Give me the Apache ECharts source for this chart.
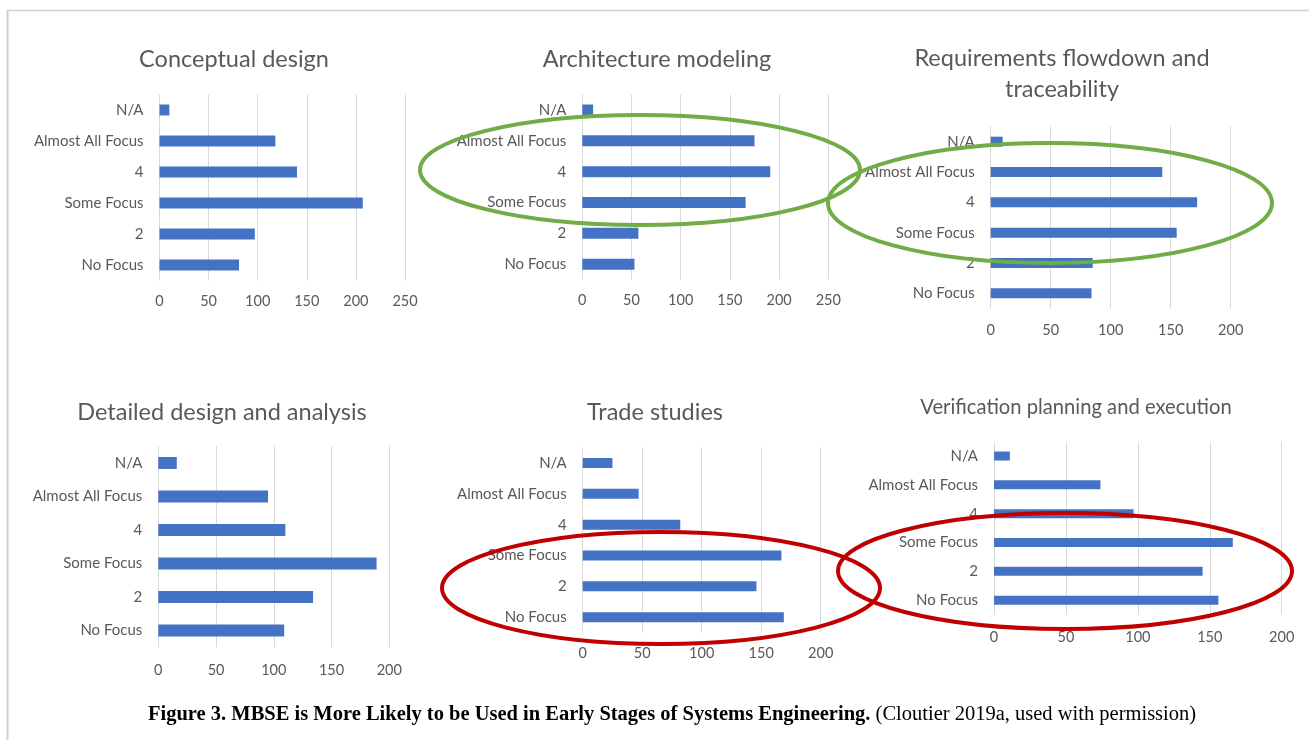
<!DOCTYPE html>
<html><head><meta charset="utf-8">
<script src="https://cdn.jsdelivr.net/npm/echarts@6/dist/echarts.min.js"></script>
<style>html,body{margin:0;padding:0;background:#fff}#c{width:1309px;height:740px}</style>
</head><body><div id="c"></div><script>
// ---- data ----
const categories = ['N/A', 'Almost All Focus', '4', 'Some Focus', '2', 'No Focus'];
const panelTitles = ['Conceptual design', 'Architecture modeling', 'Requirements flowdown and\ntraceability',
  'Detailed design and analysis', 'Trade studies', 'Verification planning and execution'];
const conceptualDesign = [10, 118, 140, 207, 97, 81];
const architectureModeling = [11, 175, 191, 166, 57, 53];
const requirementsFlowdown = [10, 143, 172, 155, 85, 84];
const detailedDesign = [16, 95, 110, 189, 134, 109];
const tradeStudies = [25, 47, 82, 167, 146, 169];
const verificationPlanning = [11, 74, 97, 166, 145, 156];
const axisMax = [250, 250, 200, 200, 200, 200];
const axisInterval = 50;
const captionBold = 'Figure 3. MBSE is More Likely to be Used in Early Stages of Systems Engineering.';
const captionNormal = ' (Cloutier 2019a, used with permission)';

const seriesData = [conceptualDesign, architectureModeling, requirementsFlowdown, detailedDesign, tradeStudies, verificationPlanning];

// ---- layout (styles/positions) ----
const layout = [
  { grid: { left: 159.5, top: 94.5, width: 245.5, height: 186 }, tx: 229, ty: 39, fs: 23.5, bw: 11, lm: 13 },
  { grid: { left: 582.3, top: 94.6, width: 246, height: 185 }, tx: 652, ty: 39, fs: 23.5, bw: 11, lm: 13 },
  { grid: { left: 990.7, top: 126.5, width: 240, height: 182 }, tx: 1057, ty: 38, fs: 23.5, bw: 10, lm: 14 },
  { grid: { left: 158.3, top: 446.2, width: 231, height: 201 }, tx: 217, ty: 392, fs: 23.5, bw: 12, lm: 16 },
  { grid: { left: 582.7, top: 447.6, width: 238, height: 185 }, tx: 650, ty: 392, fs: 23.5, bw: 10, lm: 13 },
  { grid: { left: 994, top: 441.6, width: 287.7, height: 173 }, tx: 1071, ty: 387, fs: 20.2, bw: 9, lm: 15 }
];

const FONT = 'Lato, "Open Sans", sans-serif';
const TXT = '#595959';
const GRIDC = '#d9d9d9';

const option = {
  backgroundColor: '#ffffff',
  animation: false,
  title: layout.map((l, i) => ({
    text: panelTitles[i], left: l.tx, top: l.ty, textAlign: 'center',
    textStyle: { fontFamily: FONT, fontSize: l.fs, fontWeight: 'normal', color: TXT, lineHeight: 31 }
  })),
  grid: layout.map(l => Object.assign({ containLabel: false }, l.grid)),
  xAxis: layout.map((l, i) => ({
    type: 'value', gridIndex: i, min: 0, max: axisMax[i], interval: axisInterval,
    axisLine: { show: false }, axisTick: { show: false },
    splitLine: { show: true, lineStyle: { color: GRIDC, width: 1 } },
    axisLabel: { color: TXT, fontFamily: FONT, fontSize: 14.5, margin: l.lm }
  })),
  yAxis: layout.map((l, i) => ({
    type: 'category', gridIndex: i, data: categories, inverse: true,
    axisLine: { show: false }, axisTick: { show: false },
    axisLabel: { color: TXT, fontFamily: FONT, fontSize: 15, margin: 16 }
  })),
  series: seriesData.map((d, i) => ({
    type: 'bar', xAxisIndex: i, yAxisIndex: i, data: d, barWidth: layout[i].bw,
    itemStyle: { color: '#4472C4' }
  })),
  graphic: [
    { type: 'line', shape: { x1: 7, y1: 10.5, x2: 1309, y2: 10.5 }, style: { stroke: '#d0d0d0', lineWidth: 1.5 }, z: 10 },
    { type: 'line', shape: { x1: 7.5, y1: 10, x2: 7.5, y2: 740 }, style: { stroke: '#d0d0d0', lineWidth: 2 }, z: 10 },
    { type: 'ellipse', shape: { cx: 640, cy: 170, rx: 220, ry: 55 }, style: { fill: null, stroke: '#70AD47', lineWidth: 4 }, z: 100 },
    { type: 'ellipse', shape: { cx: 1050, cy: 203, rx: 222, ry: 60 }, style: { fill: null, stroke: '#70AD47', lineWidth: 4 }, z: 100 },
    { type: 'ellipse', shape: { cx: 661, cy: 588, rx: 219, ry: 56 }, style: { fill: null, stroke: '#C00000', lineWidth: 4 }, z: 100 },
    { type: 'ellipse', shape: { cx: 1065, cy: 571, rx: 227, ry: 58 }, style: { fill: null, stroke: '#C00000', lineWidth: 4 }, z: 100 },
    { type: 'text', left: 148, top: 704, z: 100,
      style: {
        text: '{b|' + captionBold + '}{n|' + captionNormal + '}',
        rich: {
          b: { fontFamily: '"Liberation Serif", "Times New Roman", serif', fontWeight: 'bold', fontSize: 20.5, fill: '#000' },
          n: { fontFamily: '"Liberation Serif", "Times New Roman", serif', fontSize: 20.5, fill: '#000' }
        }
      } }
  ]
};
const chart = echarts.init(document.getElementById('c'), null, { renderer: 'canvas' });
chart.setOption(option);
</script></body></html>
